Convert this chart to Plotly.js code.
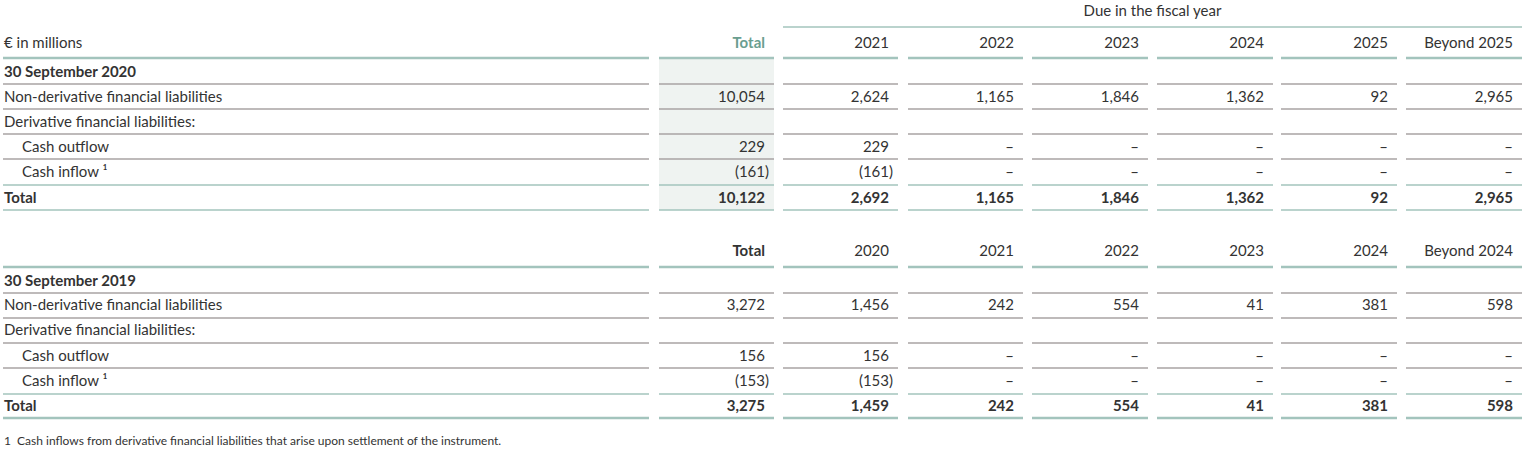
<!DOCTYPE html>
<html><head><meta charset="utf-8">
<script src="https://cdn.plot.ly/plotly-3.0.1.min.js"></script>
<style>html,body{margin:0;padding:0;background:#fff}</style>
</head><body><div id="chart" style="width:1526px;height:454px"></div>
<script>
// ---------------- DATA ----------------
const unitLabel = "€ in millions";
const groupHeader = "Due in the fiscal year";
const totalHeader = "Total";
const footnote = "1  Cash inflows from derivative financial liabilities that arise upon settlement of the instrument.";

const rowLabels2020 = ["30 September 2020", "Non-derivative financial liabilities", "Derivative financial liabilities:", "Cash outflow", "Cash inflow ¹", "Total"];
const years2020 = ["2021", "2022", "2023", "2024", "2025", "Beyond 2025"];
// columns: Total, then each year
const nonDerivative2020 = [10054, 2624, 1165, 1846, 1362, 92, 2965];
const cashOutflow2020   = [229, 229, null, null, null, null, null];
const cashInflow2020    = [-161, -161, null, null, null, null, null];
const total2020         = [10122, 2692, 1165, 1846, 1362, 92, 2965];

const rowLabels2019 = ["30 September 2019", "Non-derivative financial liabilities", "Derivative financial liabilities:", "Cash outflow", "Cash inflow ¹", "Total"];
const years2019 = ["2020", "2021", "2022", "2023", "2024", "Beyond 2024"];
const nonDerivative2019 = [3272, 1456, 242, 554, 41, 381, 598];
const cashOutflow2019   = [156, 156, null, null, null, null, null];
const cashInflow2019    = [-153, -153, null, null, null, null, null];
const total2019         = [3275, 1459, 242, 554, 41, 381, 598];

// ---------------- LAYOUT / STYLE ----------------
const FONT = "Lato, 'Source Sans Pro', sans-serif";
const TXT = "#333333";
const TEAL_TXT = "#6a9e90";
const TEAL_LINE = "#a3c4bd";
const GRAY_LINE = "#a8a3a3";
const SHADE = "#eff3f1";
const FS = 15;
const DY = 1;

const colLeft  = [659, 783, 908, 1032, 1157, 1281, 1406];
const colRight = [774, 898, 1023, 1148, 1273, 1397, 1522];
const labelLeft = 4, labelRight = 649, indentLeft = 22, pad = 9;

function fmt(v) {
  if (v === null) return "–";
  const s = Math.abs(v).toLocaleString("en-US");
  return v < 0 ? "(" + s + ")" : s;
}

const traces = [];
const shapes = [];

function hline(y, x0, x1, color, w) {
  shapes.push({type: "line", xref: "x", yref: "y", x0: x0, x1: x1, y0: y, y1: y,
    line: {color: color, width: w}, layer: "above"});
}
function rowLine(y, color, w) {
  hline(y, labelLeft - 1, labelRight, color, w);
  for (let c = 0; c < colLeft.length; c++) hline(y, colLeft[c], colRight[c], color, w);
}
function textTrace(xs, ys, texts, pos, colors, bold, size) {
  traces.push({type: "scatter", mode: "text", x: xs, y: ys.map(v => v + DY),
    text: texts.map((t, i) => (bold && bold[i]) ? "<b>" + t + "</b>" : t),
    textposition: pos, cliponaxis: false, hoverinfo: "skip", showlegend: false,
    textfont: {family: FONT, size: size || FS, color: colors}});
}

function buildTable(cfg) {
  const {labels, years, rows, headerY, rowY, headerLineY, lineYs, lineKinds, shadeTotal, totalColor, showUnit} = cfg;
  const hx = [], hy = [], ht = [], hc = [], hb = [];
  hx.push(colRight[0] - pad); hy.push(headerY); ht.push(totalHeader); hc.push(totalColor); hb.push(true);
  years.forEach((yr, i) => { hx.push(colRight[i + 1] - pad); hy.push(headerY); ht.push(yr); hc.push(TXT); hb.push(false); });
  textTrace(hx, hy, ht, "middle left", hc, hb);
  if (showUnit) textTrace([labelLeft], [headerY], [unitLabel], "middle right", [TXT], [false]);

  if (shadeTotal) {
    shapes.push({type: "rect", xref: "x", yref: "y", x0: colLeft[0], x1: colRight[0],
      y0: headerLineY + 1, y1: lineYs[lineYs.length - 1], fillcolor: SHADE, line: {width: 0}, layer: "below"});
  }

  const lx = [], ly = [], lt = [], lb = [];
  labels.forEach((lab, r) => {
    const indent = (r === 3 || r === 4);
    lx.push(indent ? indentLeft : labelLeft); ly.push(rowY[r]); lt.push(lab);
    lb.push(r === 0 || r === labels.length - 1);
  });
  textTrace(lx, ly, lt, "middle right", lx.map(() => TXT), lb);

  const vx = [], vy = [], vt = [], vb = [];
  rows.forEach((entry) => {
    const [r, vals] = entry;
    vals.forEach((v, c) => {
      const neg = v !== null && v < 0;
      vx.push(colRight[c] - pad + (neg ? 4 : 0)); vy.push(rowY[r]); vt.push(fmt(v));
      vb.push(r === labels.length - 1);
    });
  });
  textTrace(vx, vy, vt, "middle left", vx.map(() => TXT), vb);

  rowLine(headerLineY, TEAL_LINE, 2.5);
  lineYs.forEach((y, i) => {
    const k = lineKinds[i];
    if (k === "g") rowLine(y, GRAY_LINE, 1.3);
    else if (k === "t") rowLine(y, TEAL_LINE, 1.5);
    else rowLine(y, TEAL_LINE, 2.5);
  });
}

buildTable({
  labels: rowLabels2020, years: years2020,
  rows: [[1, nonDerivative2020], [3, cashOutflow2020], [4, cashInflow2020], [5, total2020]],
  headerY: 43, rowY: [72, 97, 122, 147, 172, 198], headerLineY: 58,
  lineYs: [84, 109, 134, 159, 185, 210], lineKinds: ["g", "g", "g", "g", "t", "t"],
  shadeTotal: true, totalColor: TEAL_TXT, showUnit: true
});
buildTable({
  labels: rowLabels2019, years: years2019,
  rows: [[1, nonDerivative2019], [3, cashOutflow2019], [4, cashInflow2019], [5, total2019]],
  headerY: 251, rowY: [281, 305, 330, 356, 381, 406], headerLineY: 267,
  lineYs: [293, 318, 343, 368, 394, 418], lineKinds: ["g", "g", "g", "g", "t", "T"],
  shadeTotal: false, totalColor: TXT, showUnit: false
});

textTrace([(colLeft[1] + colRight[6]) / 2], [11], [groupHeader], "middle center", [TXT], [false]);
hline(27, colLeft[1], colRight[6], TEAL_LINE, 1.5);

textTrace([labelLeft], [441], [footnote], "middle right", [TXT], [false], 12);

const layout = {
  width: 1526, height: 454, margin: {l: 0, r: 0, t: 0, b: 0},
  paper_bgcolor: "#ffffff", plot_bgcolor: "#ffffff", showlegend: false,
  xaxis: {range: [0, 1526], visible: false, fixedrange: true},
  yaxis: {range: [454, 0], visible: false, fixedrange: true},
  shapes: shapes
};
Plotly.newPlot("chart", traces, layout, {staticPlot: true, displayModeBar: false});
</script></body></html>
